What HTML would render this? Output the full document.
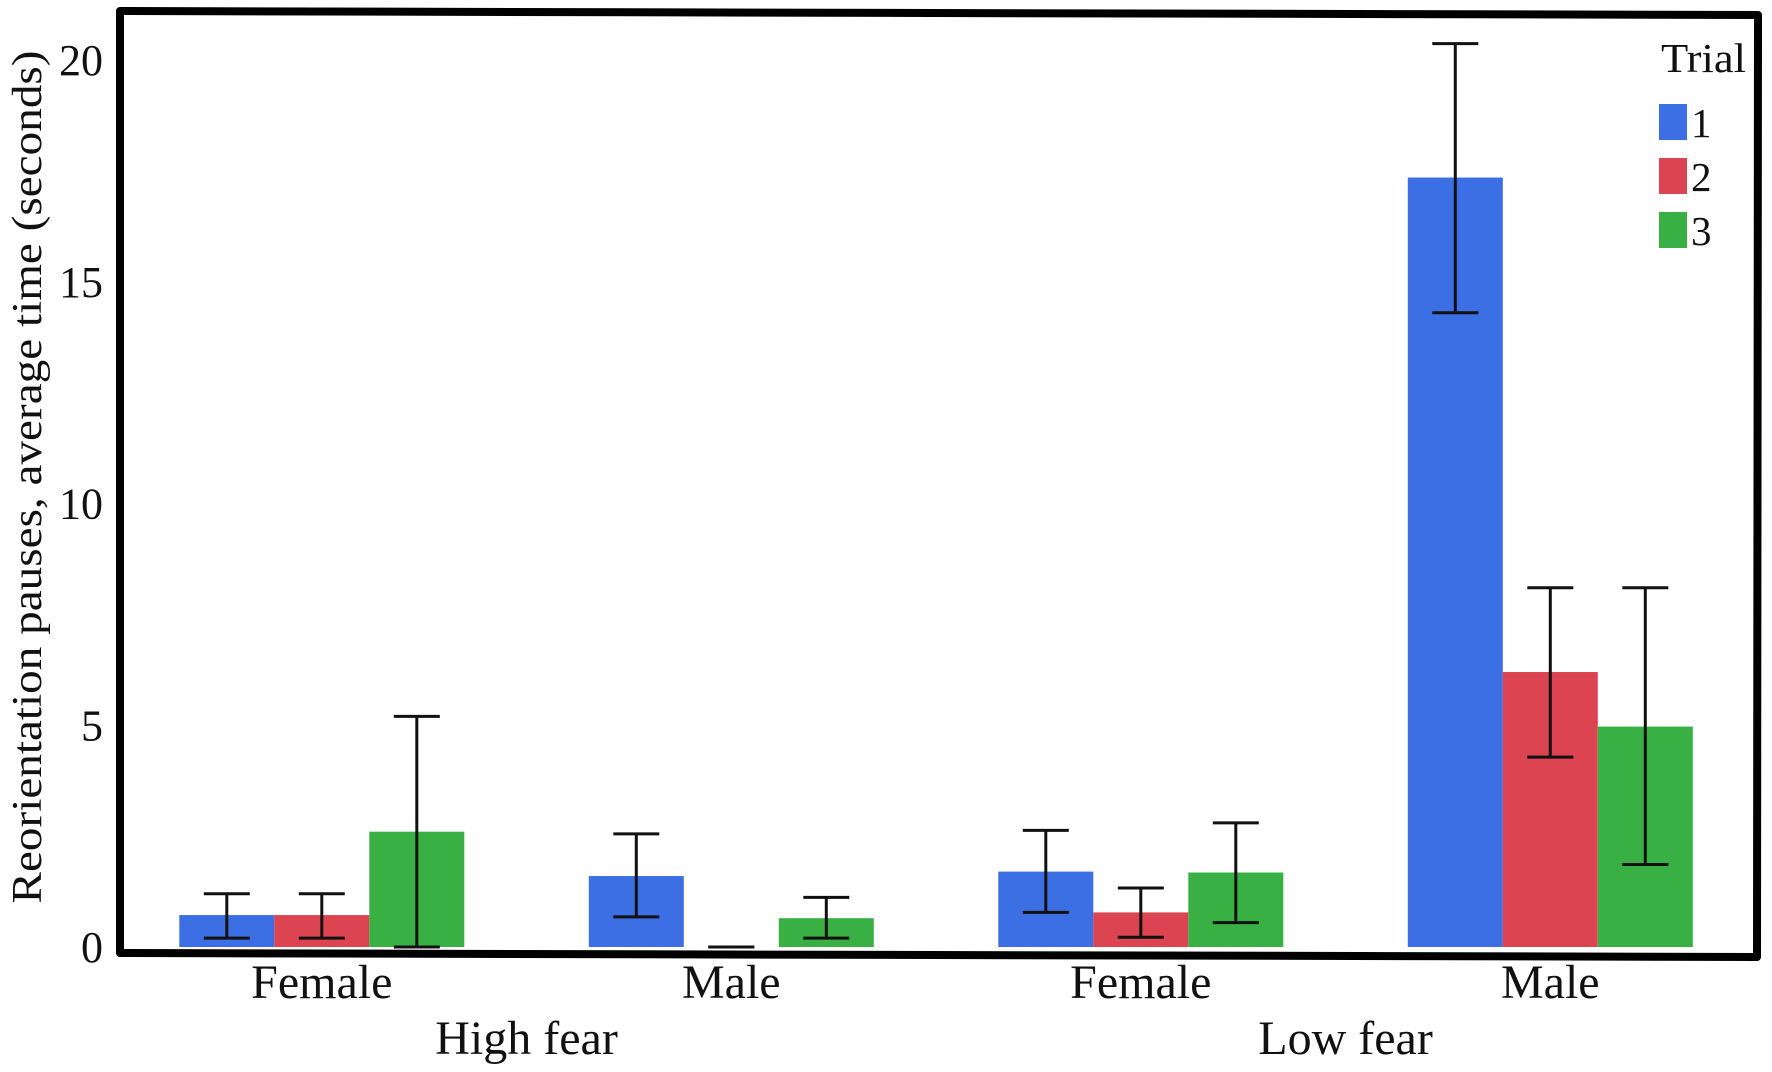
<!DOCTYPE html>
<html><head><meta charset="utf-8"><style>
html,body{margin:0;padding:0;background:#fff;}
svg{display:block;}
text{font-family:"Liberation Serif","Times New Roman",serif;fill:#111;}
</style></head><body>
<svg id="chart" width="1772" height="1072" viewBox="0 0 1772 1072" xmlns="http://www.w3.org/2000/svg">
<rect x="0" y="0" width="1772" height="1072" fill="#fff"/>
<g id="bars"></g>
<polygon points="120,11 1758,15 1757,957 120,953" fill="none" stroke="#000" stroke-width="8" stroke-linejoin="round"/>
<g id="yticks"></g>
<text transform="translate(41,477) rotate(-90)" text-anchor="middle" font-size="42" textLength="853" lengthAdjust="spacingAndGlyphs">Reorientation pauses, average time (seconds)</text>
<g id="xlabels"></g>
<g>
<text x="1661" y="72" font-size="41" textLength="85" lengthAdjust="spacingAndGlyphs">Trial</text>
<g id="legend-items"></g>
</g>
</svg>
<script>
const categories = ["Female","Male","Female","Male"];
const groups = ["High fear","Low fear"];
const series = ["1","2","3"];
const colors = ["#3b6fe3","#dc4452","#38b044"];
const trial1 = [0.72, 1.6, 1.7, 17.35];
const trial2 = [0.72, 0.0, 0.78, 6.2];
const trial3 = [2.6, 0.65, 1.68, 4.97];
const err1Low = [0.2, 0.68, 0.78, 14.3];
const err1High = [1.2, 2.55, 2.63, 20.37];
const err2Low = [0.2, 0.0, 0.22, 4.28];
const err2High = [1.2, 0.0, 1.33, 8.1];
const err3Low = [0.0, 0.2, 0.55, 1.86];
const err3High = [5.2, 1.12, 2.8, 8.1];
const yTicks = [0, 5, 10, 15, 20];

const NS = "http://www.w3.org/2000/svg";
const y0 = 947, unit = 44.35;
function yScale(v){ return y0 - v*unit; }
const firstCenter = 321.8, spacing = 409.5, barW = 95;
function xCenter(ci, si){ return firstCenter + ci*spacing + (si-1)*barW; }
function mk(tag, attrs, parent){ const e=document.createElementNS(NS,tag); for(const k in attrs) e.setAttribute(k,attrs[k]); parent.appendChild(e); return e; }

const vals=[trial1,trial2,trial3], lows=[err1Low,err2Low,err3Low], highs=[err1High,err2High,err3High];
const gb=document.getElementById('bars');
for(let s=0;s<3;s++){
  for(let c=0;c<categories.length;c++){
    const cx=xCenter(c,s), v=vals[s][c];
    if(v>0){
      const r=mk('rect',{x:cx-barW/2,y:yScale(v),width:barW,height:y0-yScale(v),fill:colors[s]},gb);
      
      
    }
    const g=mk('g',{stroke:'#111','stroke-width':3,fill:'none'},gb);
    
    
    const lo=yScale(lows[s][c]), hi=yScale(highs[s][c]);
    mk('line',{x1:cx,x2:cx,y1:lo,y2:hi},g);
    mk('line',{x1:cx-23,x2:cx+23,y1:lo,y2:lo},g);
    mk('line',{x1:cx-23,x2:cx+23,y1:hi,y2:hi},g);
  }
}
const gy=document.getElementById('yticks');
yTicks.forEach(t=>{
  const tx=mk('text',{x:103,y:yScale(t)+15,'text-anchor':'end','font-size':44},gy);
  
  
  tx.textContent=t;
});
const gx=document.getElementById('xlabels');
categories.forEach((c,i)=>{
  const tx=mk('text',{x:xCenter(i,1),y:998,'text-anchor':'middle','font-size':48},gx);
  
  
  tx.textContent=c;
});
groups.forEach((g,i)=>{
  const cx=(xCenter(i*2,1)+xCenter(i*2+1,1))/2;
  const tx=mk('text',{x:cx,y:1054,'text-anchor':'middle','font-size':48},gx);
  
  
  tx.textContent=g;
});
const gl=document.getElementById('legend-items');
series.forEach((s,i)=>{
  const yy=104+i*54;
  const r=mk('rect',{x:1659,y:yy,width:28,height:36,fill:colors[i]},gl);
  
  
  const t=mk('text',{x:1691,y:yy+33,'font-size':41},gl);
  
  
  t.textContent=s;
});
</script>
</body></html>
